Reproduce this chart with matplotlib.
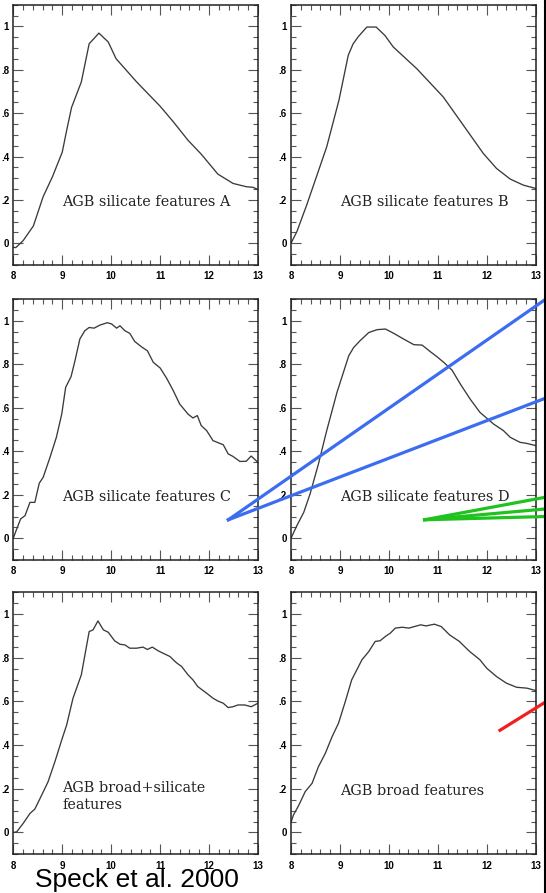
import matplotlib
matplotlib.use("Agg")
import matplotlib.pyplot as plt
from matplotlib.lines import Line2D
from matplotlib.ticker import MultipleLocator, FuncFormatter

# ---- spectra (wavelength in micron, normalised flux) ----
wl_a = [8.0, 8.05, 8.2, 8.41, 8.61, 8.8, 9.0, 9.09, 9.19, 9.39, 9.55, 9.75, 9.94, 10.1,
        10.52, 11.0, 11.27, 11.57, 11.84, 12.18, 12.49, 12.76, 12.9, 13.0]
fl_a = [-0.018, -0.02, 0.012, 0.08, 0.215, 0.307, 0.42, 0.52, 0.626, 0.744, 0.92, 0.969,
        0.928, 0.851, 0.744, 0.632, 0.56, 0.475, 0.411, 0.319, 0.276, 0.261, 0.258, 0.248]

wl_b = [8.0, 8.12, 8.32, 8.52, 8.73, 8.98, 9.17, 9.27, 9.38, 9.55, 9.74, 9.92, 10.09,
        10.57, 11.11, 11.45, 11.93, 12.2, 12.48, 12.75, 13.0]
fl_b = [0.0, 0.054, 0.176, 0.307, 0.445, 0.66, 0.867, 0.92, 0.954, 0.997, 0.997, 0.958,
        0.905, 0.805, 0.675, 0.567, 0.414, 0.345, 0.296, 0.268, 0.253]

wl_c = [8.0, 8.07, 8.15, 8.24, 8.34, 8.44, 8.53, 8.61, 8.75, 8.88, 8.99, 9.07, 9.18, 9.26,
        9.36, 9.46, 9.55, 9.65, 9.77, 9.92, 10.01, 10.11, 10.18, 10.28, 10.38, 10.48, 10.62,
        10.74, 10.86, 11.0, 11.13, 11.27, 11.4, 11.57, 11.67, 11.76, 11.84, 11.95, 12.08,
        12.21, 12.29, 12.39, 12.49, 12.63, 12.76, 12.86, 13.0]
fl_c = [0.0, 0.043, 0.089, 0.104, 0.165, 0.165, 0.253, 0.28, 0.372, 0.464, 0.571, 0.694,
        0.743, 0.816, 0.916, 0.954, 0.969, 0.966, 0.98, 0.991, 0.985, 0.966, 0.977, 0.954,
        0.942, 0.905, 0.88, 0.862, 0.809, 0.783, 0.737, 0.678, 0.617, 0.571, 0.553, 0.564,
        0.518, 0.495, 0.449, 0.437, 0.43, 0.388, 0.376, 0.353, 0.354, 0.378, 0.349]

wl_d = [8.0, 8.12, 8.26, 8.39, 8.56, 8.73, 8.94, 9.18, 9.28, 9.41, 9.59, 9.76, 9.93, 10.1,
        10.3, 10.51, 10.68, 10.84, 10.98, 11.12, 11.29, 11.46, 11.66, 11.86, 12.14, 12.34,
        12.48, 12.68, 12.82, 13.0]
fl_d = [0.0, 0.058, 0.119, 0.204, 0.341, 0.495, 0.671, 0.839, 0.877, 0.908, 0.946, 0.959,
        0.962, 0.942, 0.916, 0.89, 0.888, 0.859, 0.835, 0.809, 0.773, 0.709, 0.64, 0.579,
        0.525, 0.495, 0.464, 0.441, 0.436, 0.426]

wl_e = [8.0, 8.07, 8.2, 8.34, 8.44, 8.58, 8.71, 8.85, 8.99, 9.09, 9.22, 9.39, 9.55, 9.63,
        9.73, 9.84, 9.94, 10.07, 10.18, 10.28, 10.38, 10.52, 10.65, 10.74, 10.84, 10.96,
        11.06, 11.2, 11.33, 11.44, 11.57, 11.67, 11.77, 11.95, 12.08, 12.18, 12.29, 12.39,
        12.49, 12.59, 12.73, 12.86, 13.0]
fl_e = [0.0, 0.003, 0.041, 0.087, 0.107, 0.171, 0.232, 0.324, 0.424, 0.492, 0.615, 0.722,
        0.92, 0.928, 0.969, 0.928, 0.917, 0.878, 0.862, 0.859, 0.844, 0.844, 0.849, 0.838,
        0.849, 0.832, 0.821, 0.806, 0.778, 0.76, 0.722, 0.699, 0.668, 0.638, 0.615, 0.602,
        0.592, 0.572, 0.576, 0.584, 0.584, 0.576, 0.592]

wl_f = [8.0, 8.05, 8.16, 8.29, 8.43, 8.56, 8.7, 8.84, 8.97, 9.11, 9.24, 9.45, 9.59, 9.72,
        9.82, 9.93, 10.03, 10.13, 10.27, 10.41, 10.52, 10.65, 10.76, 10.93, 11.07, 11.24,
        11.44, 11.65, 11.86, 12.0, 12.2, 12.4, 12.61, 12.82, 13.0]
fl_f = [0.046, 0.08, 0.125, 0.187, 0.225, 0.301, 0.362, 0.439, 0.5, 0.6, 0.699, 0.791,
        0.829, 0.875, 0.878, 0.898, 0.913, 0.936, 0.94, 0.936, 0.943, 0.951, 0.946, 0.954,
        0.943, 0.905, 0.875, 0.829, 0.791, 0.752, 0.714, 0.684, 0.665, 0.661, 0.65]

labels = ["AGB silicate features A", "AGB silicate features B",
          "AGB silicate features C", "AGB silicate features D",
          "AGB broad+silicate\nfeatures", "AGB broad features"]

# callout strokes, in the data frame of the panel they start in
blue_start = (6.72, 0.085)
blue_ends = [(13.21, 1.10), (13.21, 0.645)]
green_start = (10.73, 0.085)
green_ends = [(13.21, 0.189), (13.21, 0.135), (13.21, 0.10)]
red_seg = [(12.27, 0.468), (13.21, 0.599)]

W, H = 546, 893
fig = plt.figure(figsize=(W / 100, H / 100), dpi=100)

col_left = [13.3, 291.0]
row_top = [4.7, 299.0, 592.3]
row_bot = [265.0, 560.0, 854.3]
pw = 244.7

data = [(wl_a, fl_a), (wl_b, fl_b), (wl_c, fl_c), (wl_d, fl_d), (wl_e, fl_e), (wl_f, fl_f)]

tick_font = dict(family="Liberation Sans", weight="bold", size=7)
label_kw = dict(fontsize=10.4, family="DejaVu Serif", color="#222222", ha="left", va="center")


def yfmt(v, pos):
    if abs(v) < 1e-9:
        return "0"
    if abs(v - 1) < 1e-9:
        return "1"
    return ("%.1f" % v).lstrip("0")


axes = []
for i, (wl, fl) in enumerate(data):
    r, c = divmod(i, 2)
    l = col_left[c] / W
    b = 1 - row_bot[r] / H
    h = (row_bot[r] - row_top[r]) / H
    ax = fig.add_axes([l, b, pw / W, h])
    axes.append(ax)
    ax.plot(wl, fl, color="#3a3a3a", lw=0.95)
    ax.set_xlim(8, 13)
    ax.set_ylim(-0.1, 1.1)
    ax.xaxis.set_major_locator(MultipleLocator(1))
    ax.xaxis.set_minor_locator(MultipleLocator(0.2))
    ax.yaxis.set_major_locator(MultipleLocator(0.2))
    ax.yaxis.set_minor_locator(MultipleLocator(0.05))
    ax.yaxis.set_major_formatter(FuncFormatter(yfmt))
    ax.tick_params(which="both", direction="in", top=True, right=True, color="#555555", width=0.8)
    ax.tick_params(which="major", length=7)
    ax.tick_params(which="minor", length=3.5)
    ax.tick_params(axis="x", which="major", pad=4.5)
    ax.tick_params(axis="y", which="major", pad=3)
    for lab in ax.get_xticklabels() + ax.get_yticklabels():
        lab.set_fontproperties(tick_font)
    for s in ax.spines.values():
        s.set_linewidth(1.1)
        s.set_color("#222222")
    if i == 4:
        ax.text(9.0, 0.203, "AGB broad+silicate", **label_kw)
        ax.text(9.0, 0.125, "features", **label_kw)
    else:
        ax.text(9.0, 0.19, labels[i], **label_kw)

axD = axes[3]
axF = axes[5]
for end in blue_ends:
    fig.add_artist(Line2D([blue_start[0], end[0]], [blue_start[1], end[1]],
                          transform=axD.transData, color="#3c6df0", lw=2.3, zorder=10))
for end in green_ends:
    fig.add_artist(Line2D([green_start[0], end[0]], [green_start[1], end[1]],
                          transform=axD.transData, color="#1fc21f", lw=2.3, zorder=10))
fig.add_artist(Line2D([p[0] for p in red_seg], [p[1] for p in red_seg],
                      transform=axF.transData, color="#ee2020", lw=2.3, zorder=10))

# right-hand border rule
fig.add_artist(Line2D([544.5 / W, 544.5 / W], [0, 1], transform=fig.transFigure,
                      color="black", lw=1.5, zorder=11))

fig.text(35 / W, 1 - 887 / H, "Speck et al. 2000", family="Liberation Sans",
         fontsize=19, color="black", ha="left", va="baseline")

fig.savefig("out.png", dpi=100)
